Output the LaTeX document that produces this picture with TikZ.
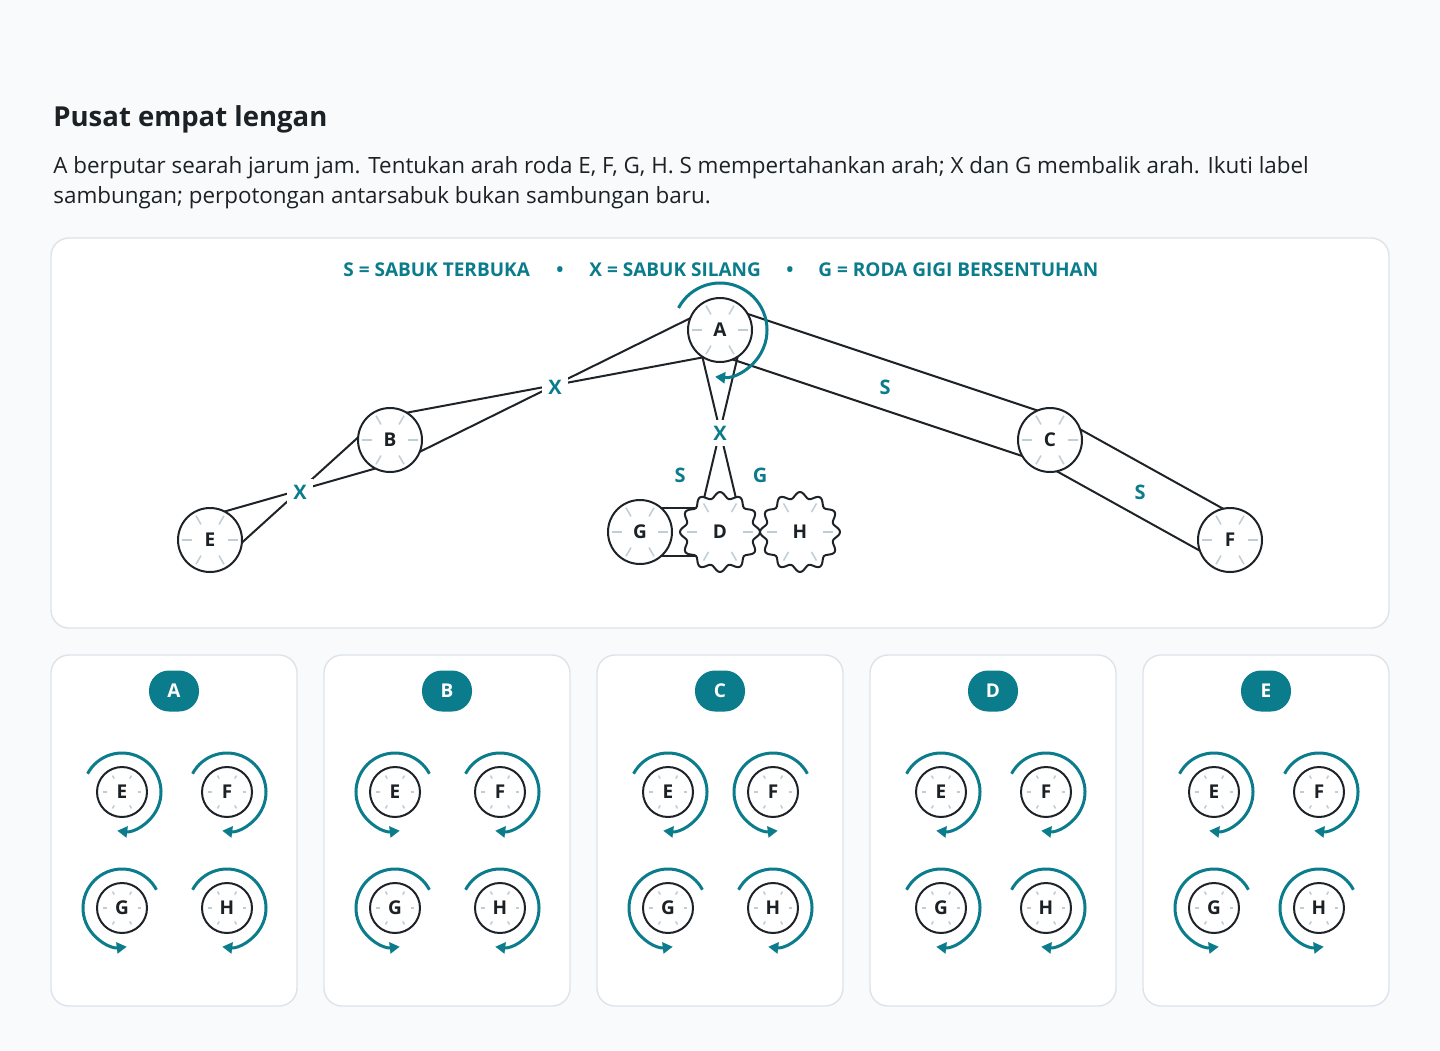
\documentclass[tikz,border=0pt]{standalone}
\usepackage{fontspec}
\setmainfont{Open Sans}
\usetikzlibrary{calc,arrows.meta}

\definecolor{tealink}{HTML}{0A7C8C}
\definecolor{rim}{HTML}{1E2328}
\definecolor{ink}{HTML}{1C2126}
\definecolor{tickgray}{HTML}{BFCDD5}
\definecolor{edge}{HTML}{DCE4EA}
\definecolor{paper}{HTML}{F8FAFC}

\pgfdeclarelayer{background}
\pgfdeclarelayer{belts}
\pgfdeclarelayer{gears}
\pgfsetlayers{background,belts,gears,main}

\tikzset{
  wheel/.style={circle,draw=rim,fill=white,line width=1pt,minimum size=32pt,inner sep=0pt,
    text=ink,font=\bfseries\fontsize{9.5}{10}\selectfont},
  smallwheel/.style={wheel,minimum size=25pt,font=\bfseries\fontsize{9.5}{10}\selectfont},
  gearwheel/.style={circle,minimum size=40pt,inner sep=0pt,text=ink,
    font=\bfseries\fontsize{9.5}{10}\selectfont},
  belt/.style={draw=rim,line width=1pt},
  tag/.style={fill=white,text=tealink,inner sep=3pt,font=\bfseries\fontsize{10}{10}\selectfont},
  spin/.style={draw=tealink,line width=1.5pt,-{Triangle[length=5pt,width=5.5pt]}},
  tick/.style={draw=tickgray,line width=0.75pt},
  panel/.style={draw=edge,fill=white,rounded corners=9pt,line width=0.7pt},
  badge/.style={fill=tealink,text=white,rounded corners=10pt,minimum width=25pt,
    minimum height=20.5pt,inner sep=0pt,font=\bfseries\fontsize{9.5}{10}\selectfont},
  legend/.style={anchor=base west,inner sep=0pt,text=tealink,font=\bfseries\fontsize{9.5}{10}\selectfont}
}

\begin{document}
\begin{tikzpicture}[x=0.5pt,y=0.5pt]
  \begin{pgfonlayer}{background}
    \fill[paper] (0,0) rectangle (1440,-1050);
    \draw[panel] (51,-238) rectangle (1389,-628);
  \end{pgfonlayer}
  \useasboundingbox (0,0) rectangle (1440,-1050);

  % heading
  \node[anchor=base west,inner sep=0pt,text=ink,font=\bfseries\fontsize{13.75}{17}\selectfont]
    (title) at (53,-126) {Pusat empat lengan};
  \node[anchor=base west,inner sep=0pt,text=ink,font=\fontsize{11.2}{15}\selectfont]
    (intro1) at (53,-173) {A berputar searah jarum jam. Tentukan arah roda E, F, G, H. S mempertahankan arah; X dan G membalik arah. Ikuti label};
  \node[anchor=base west,inner sep=0pt,text=ink,font=\fontsize{11.2}{15}\selectfont]
    (intro2) at (53,-203) {sambungan; perpotongan antarsabuk bukan sambungan baru.};

  % legend
  \node[legend] (keyS) at (343,-276) {S = SABUK TERBUKA};
  \node[legend] (dot1) at (556,-276) {•};
  \node[legend] (keyX) at (589,-276) {X = SABUK SILANG};
  \node[legend] (dot2) at (786,-276) {•};
  \node[legend] (keyG) at (818,-276) {G = RODA GIGI BERSENTUHAN};

  % wheels
  \node[wheel] (A) at (720,-330) {A};
  \node[wheel] (B) at (390,-440) {B};
  \node[wheel] (C) at (1050,-440) {C};
  \node[wheel] (E) at (210,-540) {E};
  \node[wheel] (F) at (1230,-540) {F};
  \node[wheel] (G) at (640,-532) {G};
  \node[gearwheel] (D) at (720,-532) {D};
  \node[gearwheel] (H) at (800,-532) {H};

  \begin{pgfonlayer}{gears}
    \foreach \n in {D,H}
      \draw[belt,fill=white,shift={(\n.center)}] plot[domain=0:360,samples=145,smooth]
        (\x:{37+3*cos(12*\x)}) -- cycle;
  \end{pgfonlayer}

  \foreach \n in {A,B,C,E,F,G}
    \foreach \a in {0,60,...,300}
      \draw[tick] ($(\n.center)+(\a:18)$) -- ($(\n.center)+(\a:28)$);
  \foreach \n in {D,H}
    \foreach \a in {0,60,...,300}
      \draw[tick] ($(\n.center)+(\a:23)$) -- ($(\n.center)+(\a:33)$);

  % belts
  \begin{pgfonlayer}{belts}
    \foreach \p/\q in {A/C,C/F,G/D}{
      \draw[belt] ($(\p.center)!12pt!90:(\q.center)$) -- ($(\q.center)!12pt!-90:(\p.center)$);
      \draw[belt] ($(\p.center)!12pt!-90:(\q.center)$) -- ($(\q.center)!12pt!90:(\p.center)$);
    }
    \foreach \p/\q in {A/B,B/E,A/D}{
      \draw[belt] ($(\p.center)!12pt!90:(\q.center)$) -- ($(\q.center)!12pt!90:(\p.center)$);
      \draw[belt] ($(\p.center)!12pt!-90:(\q.center)$) -- ($(\q.center)!12pt!-90:(\p.center)$);
    }
  \end{pgfonlayer}

  \node[tag] (xAB) at ($(A)!0.5!(B)+(0,-2)$) {X};
  \node[tag] (xBE) at ($(B)!0.5!(E)+(0,-2)$) {X};
  \node[tag] (xAD) at ($(A)!0.5!(D)+(0,-2)$) {X};
  \node[tag] (sAC) at ($(A)!0.5!(C)+(0,-2)$) {S};
  \node[tag] (sCF) at ($(C)!0.5!(F)+(0,-2)$) {S};
  \node[tag] (sGD) at (680,-475) {S};
  \node[tag] (gDH) at (760,-475) {G};

  \draw[spin] ($(A.center)+(152:23.5pt)$) arc[start angle=152,end angle=-96,radius=23.5pt];

  % answer cards
  \foreach \lab/\cx/\se/\sf/\sg/\sh in {A/174/1/1/-1/1, B/447/-1/1/-1/1, C/720/1/-1/-1/1,
      D/993/1/1/1/1, E/1266/1/1/-1/-1}{
    \draw[panel] (\cx-123,-655) rectangle (\cx+123,-1006);
    \node[badge] (card\lab) at (\cx,-691) {\lab};
    \foreach \w/\dx/\dy/\s in {E/-52/792/\se, F/53/792/\sf, G/-52/908/\sg, H/53/908/\sh}{
      \node[smallwheel] (\lab\w) at (\cx+\dx,-\dy) {\w};
      \foreach \a in {0,60,...,300}
        \draw[tick] ($(\lab\w.center)+(\a:15.5)$) -- ($(\lab\w.center)+(\a:19)$);
      \draw[spin] ($(\lab\w.center)+({90+62*\s}:19.5pt)$)
        arc[start angle={90+62*\s},end angle={90-187*\s},radius=19.5pt];
    }
  }
\end{tikzpicture}
\end{document}
